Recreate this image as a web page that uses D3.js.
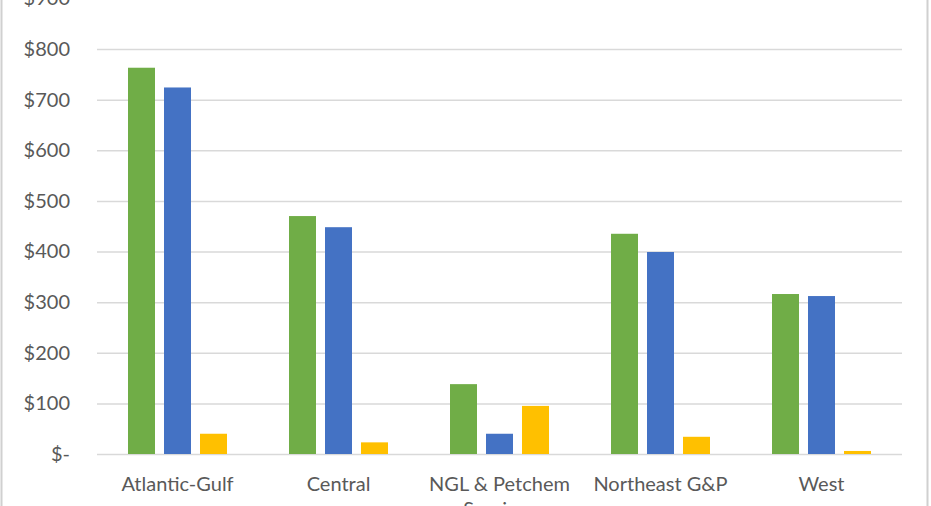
<!DOCTYPE html>
<html><head><meta charset="utf-8">
<script src="https://cdn.jsdelivr.net/npm/d3@7/dist/d3.min.js"></script>
<style>body{margin:0;background:#fff;}svg{display:block;}</style>
</head><body><svg id="c" width="931" height="506"></svg>
<script>
const categories = ["Atlantic-Gulf", "Central", "NGL & Petchem Services", "Northeast G&P", "West"];
const seriesNames = ["Series A", "Series B", "Series C"];
const seriesA = [763, 470, 138, 435, 316];
const seriesB = [724, 448, 40, 399, 312];
const seriesC = [40, 23, 95, 34, 6];
const colors = ["#70ad47", "#4472c4", "#ffc000"];
const yTicks = [0, 100, 200, 300, 400, 500, 600, 700, 800, 900];
const yTickLabels = ["$-", "$100", "$200", "$300", "$400", "$500", "$600", "$700", "$800", "$900"];

const svg = d3.select("#c");
const W = 931, H = 506;
const left = 97, right = 902, y0 = 454, yTop = 49;
const x = d3.scaleBand().domain(categories).range([left, right]).paddingInner(0).paddingOuter(0);
const y = d3.scaleLinear().domain([0, 800]).range([y0, yTop]);
const inner = d3.scaleBand().domain(seriesNames).range([31, x.bandwidth() - 31]).paddingInner(0.25).paddingOuter(0);

// frame lines
svg.append("line").attr("x1", 1.5).attr("x2", 1.5).attr("y1", 0).attr("y2", H).attr("stroke", "#d0d0d0").attr("stroke-width", 2);
svg.append("line").attr("x1", 927.5).attr("x2", 927.5).attr("y1", 0).attr("y2", H).attr("stroke", "#d0d0d0").attr("stroke-width", 2);

const font = "Lato, 'Open Sans', sans-serif";

// grid
const yAxis = d3.axisLeft(y).tickValues(yTicks).tickSize(-(right - left)).tickFormat((d, i) => yTickLabels[i]);
const ga = svg.append("g").attr("transform", `translate(${left},0)`).call(yAxis);
ga.select(".domain").remove();
ga.selectAll(".tick line").attr("stroke", "#d9d9d9").attr("stroke-width", 1.5);
ga.selectAll(".tick text").attr("x", -27).attr("fill", "#595959")
  .style("font-family", font).style("font-size", "20px");

const data = [seriesA, seriesB, seriesC];
data.forEach((vals, si) => {
  svg.append("g").selectAll("rect").data(vals).join("rect")
    .attr("x", (d, i) => x(categories[i]) + inner(seriesNames[si]))
    .attr("width", inner.bandwidth())
    .attr("y", d => y(d))
    .attr("height", d => y0 - y(d))
    .attr("fill", colors[si]);
});

// category labels
const xAxis = d3.axisBottom(x).tickSize(0).tickPadding(0);
const gx = svg.append("g").attr("transform", `translate(0,${y0})`).call(xAxis);
gx.select(".domain").remove();
gx.selectAll(".tick text").text(null).attr("fill", "#595959")
  .style("font-family", font).style("font-size", "20px")
  .each(function(d) {
    const t = d3.select(this);
    const lines = d === "NGL & Petchem Services" ? ["NGL & Petchem", "Services"] : [d];
    lines.forEach((ln, k) => {
      t.append("tspan").attr("x", 0).attr("y", 37 + k * 25).text(ln);
    });
  });
gx.selectAll(".tick text").attr("dy", null);
</script>
</body></html>
